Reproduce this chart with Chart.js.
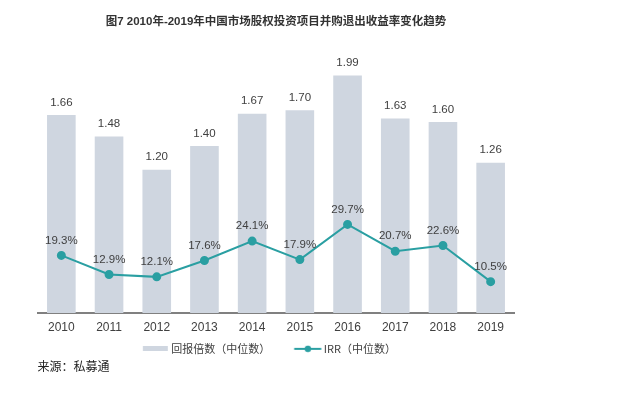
<!DOCTYPE html>
<html>
<head>
<meta charset="utf-8">
<script src="https://cdn.jsdelivr.net/npm/chart.js@4.4.1/dist/chart.umd.min.js"></script>
<style>
html,body{margin:0;padding:0;background:#fff;}
#wrap{width:631px;height:396px;}
</style>
</head>
<body>
<div id="wrap"><canvas id="c" width="631" height="396"></canvas></div>
<script>
// ---- data ----
const years = ['2010','2011','2012','2013','2014','2015','2016','2017','2018','2019'];
const multiples = [1.66, 1.48, 1.20, 1.40, 1.67, 1.70, 1.99, 1.63, 1.60, 1.26];
const irr = [19.3, 12.9, 12.1, 17.6, 24.1, 17.9, 29.7, 20.7, 22.6, 10.5];
const seriesNames = ['回报倍数（中位数）', 'IRR（中位数）'];
const titleText = '图7 2010年-2019年中国市场股权投资项目并购退出收益率变化趋势';
const sourceText = '来源：私募通';

// ---- style ----
const barColor = '#cfd6e0';
const lineColor = '#2a9fa2';
const textColor = '#404040';
const numFont = '"Liberation Sans", Arial, sans-serif';
const cjkFont = '"Noto Sans CJK SC", "Liberation Sans", sans-serif';

function barIcon() {
  const c = document.createElement('canvas');
  c.width = 52; c.height = 5;
  const g = c.getContext('2d');
  g.fillStyle = barColor;
  g.fillRect(26.8, 0, 25, 5);
  return c;
}
function lineIcon() {
  const c = document.createElement('canvas');
  c.width = 54; c.height = 8;
  const g = c.getContext('2d');
  g.strokeStyle = lineColor; g.lineWidth = 2;
  g.beginPath(); g.moveTo(26.4, 4); g.lineTo(53.4, 4); g.stroke();
  g.fillStyle = lineColor;
  g.beginPath(); g.arc(40.1, 4, 3.2, 0, Math.PI * 2); g.fill();
  return c;
}
const icons = [barIcon(), lineIcon()];

const valueLabels = {
  id: 'valueLabels',
  afterDatasetsDraw(chart) {
    const ctx = chart.ctx;
    ctx.save();
    ctx.font = '11.5px ' + numFont;
    ctx.fillStyle = textColor;
    ctx.textAlign = 'center';
    ctx.textBaseline = 'middle';
    chart.getDatasetMeta(0).data.forEach((el, i) => {
      ctx.fillText(multiples[i].toFixed(2), el.x, el.y - 12.5);
    });
    chart.getDatasetMeta(1).data.forEach((el, i) => {
      ctx.fillText(irr[i].toFixed(1) + '%', el.x, el.y - 15);
    });
    ctx.restore();
  }
};

const R = 116.5;

new Chart(document.getElementById('c'), {
  type: 'bar',
  data: {
    labels: years,
    datasets: [
      {
        type: 'bar',
        label: seriesNames[0],
        data: multiples,
        backgroundColor: barColor,
        barPercentage: 0.6,
        categoryPercentage: 1,
        yAxisID: 'y',
        order: 1
      },
      {
        type: 'line',
        label: seriesNames[1],
        data: irr,
        borderColor: lineColor,
        backgroundColor: lineColor,
        borderWidth: 2,
        pointRadius: 3.5,
        pointBackgroundColor: lineColor,
        pointBorderColor: lineColor,
        tension: 0,
        yAxisID: 'y1',
        order: 0
      }
    ]
  },
  options: {
    responsive: false,
    animation: false,
    devicePixelRatio: 1,
    layout: { padding: { left: 0, right: R, top: 0, bottom: 28.4 } },
    scales: {
      x: {
        type: 'category',
        offset: true,
        grid: { display: false, drawTicks: false, tickLength: 0 },
        border: { display: true, color: '#808080', width: 2 },
        ticks: { color: textColor, font: { family: numFont, size: 12, lineHeight: 1.2 }, padding: 7.5, maxRotation: 0 }
      },
      y: {
        position: 'left',
        min: 0, max: 2.2,
        grid: { display: false, drawTicks: false },
        border: { display: false },
        ticks: { display: false },
        afterFit(s) { s.width = 37.5; }
      },
      y1: {
        position: 'right',
        min: 0, max: 88,
        grid: { display: false, drawTicks: false },
        border: { display: false },
        ticks: { display: false },
        afterFit(s) { s.width = 631 - R - 514.5; }
      }
    },
    plugins: {
      tooltip: { enabled: false },
      title: {
        display: true,
        text: titleText,
        fullSize: false,
        color: '#333333',
        font: { family: '"Liberation Sans", "Noto Sans CJK SC", sans-serif', size: 11.5, weight: 'bold', lineHeight: 1.2 },
        padding: { top: 14.8, bottom: 21.9 }
      },
      subtitle: {
        display: true,
        text: sourceText,
        position: 'bottom',
        align: 'start',
        fullSize: false,
        color: '#222222',
        font: { family: cjkFont, size: 12, lineHeight: 0.27 },
        padding: 0
      },
      legend: {
        display: true,
        position: 'bottom',
        fullSize: true,
        labels: {
          usePointStyle: true,
          pointStyleWidth: 47.2,
          padding: 1,
          color: textColor,
          font: { family: cjkFont, size: 11 },
          generateLabels(chart) {
            const items = Chart.defaults.plugins.legend.labels.generateLabels(chart);
            items.sort((a, b) => a.datasetIndex - b.datasetIndex);
            items.forEach(it => { it.pointStyle = icons[it.datasetIndex]; });
            return items;
          }
        }
      }
    }
  },
  plugins: [valueLabels]
});
</script>
</body>
</html>
